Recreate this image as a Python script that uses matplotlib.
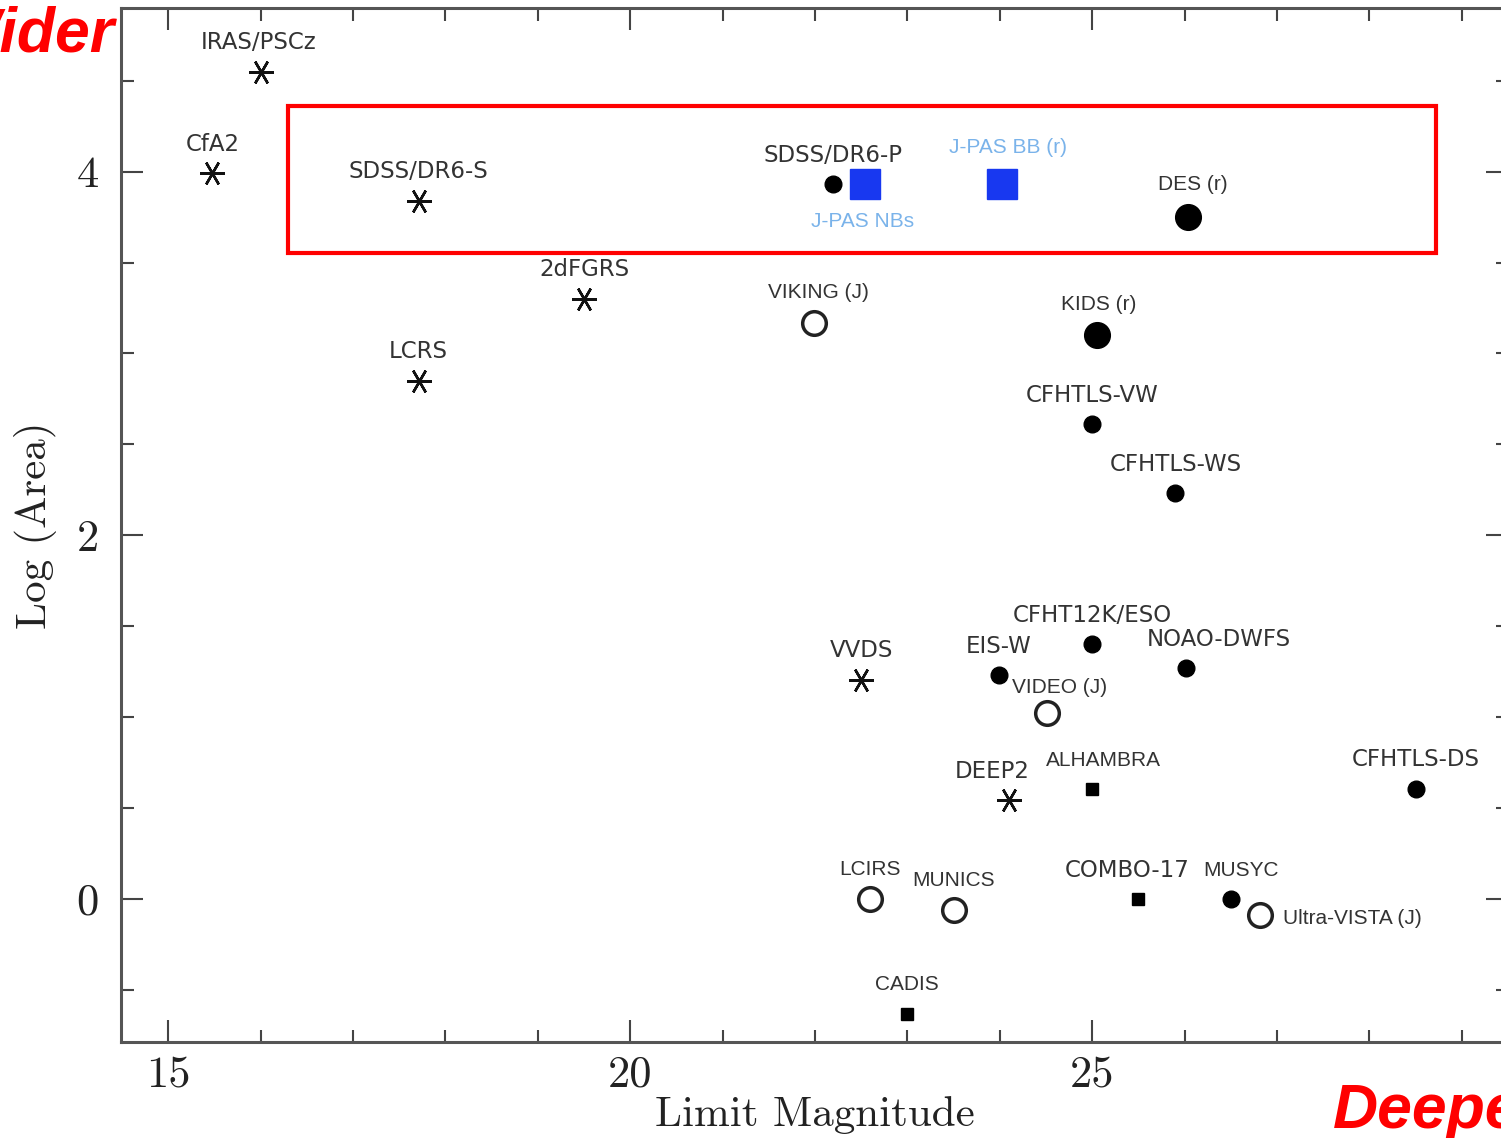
import matplotlib
matplotlib.use('Agg')
import matplotlib.pyplot as plt
from matplotlib.patches import Rectangle
from matplotlib.ticker import MultipleLocator

# survey data: limit magnitude vs log(area)
star_names = ['IRAS/PSCz', 'CfA2', 'SDSS/DR6-S', '2dFGRS', 'LCRS', 'VVDS', 'DEEP2']
star_mag = [16.0, 15.48, 17.71, 19.50, 17.71, 22.50, 24.10]
star_area = [4.55, 3.99, 3.84, 3.30, 2.85, 1.205, 0.545]

dot_names = ['SDSS/DR6-P', 'CFHTLS-VW', 'CFHTLS-WS', 'CFHT12K/ESO', 'NOAO-DWFS',
             'EIS-W', 'CFHTLS-DS', 'MUSYC']
dot_mag = [22.20, 25.00, 25.90, 25.00, 26.01, 23.99, 28.50, 26.50]
dot_area = [3.93, 2.61, 2.23, 1.40, 1.27, 1.23, 0.605, 0.0]

bigdot_names = ['DES (r)', 'KIDS (r)']
bigdot_mag = [26.04, 25.05]
bigdot_area = [3.75, 3.10]

ring_names = ['VIKING (J)', 'VIDEO (J)', 'LCIRS', 'MUNICS', 'Ultra-VISTA (J)']
ring_mag = [21.99, 24.51, 22.60, 23.50, 26.82]
ring_area = [3.165, 1.02, 0.0, -0.06, -0.088]

sq_names = ['ALHAMBRA', 'COMBO-17', 'CADIS']
sq_mag = [25.00, 25.50, 23.00]
sq_area = [0.605, 0.0, -0.633]

jpas_names = ['J-PAS NBs', 'J-PAS BB (r)']
jpas_mag = [22.54, 24.02]
jpas_area = [3.93, 3.93]

# label offsets in pixels (dx, dy) from the marker; default is straight above
label_off = {
    'IRAS/PSCz': (-2, 29), 'DEEP2': (-17, 28), 'J-PAS NBs': (-2, -37),
    'J-PAS BB (r)': (6, 37), 'DES (r)': (5, 33), 'VIKING (J)': (4, 31),
    'KIDS (r)': (2, 31), 'NOAO-DWFS': (33, 28), 'VIDEO (J)': (13, 26),
    'ALHAMBRA': (11, 28), 'COMBO-17': (-11, 28), 'MUSYC': (10, 28),
}
helv_labels = {'DES (r)', 'KIDS (r)', 'VIKING (J)', 'VIDEO (J)', 'Ultra-VISTA (J)',
               'J-PAS NBs', 'J-PAS BB (r)', 'LCIRS', 'MUNICS', 'CADIS', 'MUSYC',
               'ALHAMBRA'}

fig = plt.figure(figsize=(15.01, 11.38), dpi=100)
ax = fig.add_axes([121 / 1501, 96 / 1138, 1387 / 1501, 1034 / 1138])

ax.plot(star_mag, star_area, ls='none', marker=(6, 2, 90), ms=18, mew=1.8, color='#111111')
ax.plot(dot_mag, dot_area, ls='none', marker='o', ms=12, color='black')
ax.plot(bigdot_mag, bigdot_area, ls='none', marker='o', ms=18.5, color='black')
ax.plot(ring_mag, ring_area, ls='none', marker='o', ms=17, mfc='white', mec='#222222', mew=2.5)
ax.plot(sq_mag, sq_area, ls='none', marker='s', ms=8.5, color='black')
ax.plot(jpas_mag, jpas_area, ls='none', marker='s', ms=21, color='#1838f0')

def put_labels(names, xs, ys):
    for n, x, y in zip(names, xs, ys):
        if n == 'Ultra-VISTA (J)':
            ax.annotate(n, (x, y), xytext=(23, -4), textcoords='offset pixels',
                        ha='left', va='center', fontsize=15, color='#333333',
                        family='Liberation Sans')
            continue
        dx, dy = label_off.get(n, (0, 29))
        col = '#7ab3ea' if n.startswith('J-PAS') else '#333333'
        if n in helv_labels:
            fam, fs = 'Liberation Sans', 15
        else:
            fam, fs = 'DejaVu Sans', 16.5
        ax.annotate(n, (x, y), xytext=(dx, dy), textcoords='offset pixels',
                    ha='center', va='center', fontsize=fs, color=col, family=fam)

put_labels(star_names, star_mag, star_area)
put_labels(dot_names, dot_mag, dot_area)
put_labels(bigdot_names, bigdot_mag, bigdot_area)
put_labels(ring_names, ring_mag, ring_area)
put_labels(sq_names, sq_mag, sq_area)
put_labels(jpas_names, jpas_mag, jpas_area)

ax.set_xlim(14.49, 29.50)
ax.set_ylim(-0.787, 4.90)
ax.xaxis.set_major_locator(MultipleLocator(5))
ax.xaxis.set_minor_locator(MultipleLocator(1))
ax.yaxis.set_major_locator(MultipleLocator(2))
ax.yaxis.set_minor_locator(MultipleLocator(0.5))
ax.tick_params(which='both', direction='in', top=True, right=True,
               color='#444444', width=1.5, labelcolor='#222222')
ax.tick_params(which='major', length=16, labelsize=32)
ax.tick_params(which='minor', length=9)
ax.tick_params(axis='x', pad=10)
ax.tick_params(axis='y', pad=16)
for lab in ax.get_xticklabels() + ax.get_yticklabels():
    lab.set_family(['cmr10', 'DejaVu Serif'])
for sp in ax.spines.values():
    sp.set_color('#555555')
    sp.set_linewidth(2.2)

ax.set_xlabel('Limit Magnitude', family=['cmr10', 'DejaVu Serif'], fontsize=31,
              color='#222222', labelpad=0)
ax.set_ylabel('Log (Area)', family=['cmr10', 'DejaVu Serif'], fontsize=31,
              color='#222222', labelpad=14)

# highlight box around the J-PAS region
ax.add_patch(Rectangle((16.30, 3.555), 12.42, 0.805, fill=False, ec='#ff0000',
                       lw=3, zorder=5))

fig.text(115 / 1501, 1 - 52 / 1138, 'Wider', ha='right', va='baseline', color='#ff0000',
         fontsize=45, fontweight='bold', fontstyle='italic', family='Liberation Sans')
fig.text(1333 / 1501, 1 - 1128 / 1138, 'Deeper', ha='left', va='baseline', color='#ff0000',
         fontsize=45, fontweight='bold', fontstyle='italic', family='Liberation Sans')

fig.savefig('out.png', dpi=100)
